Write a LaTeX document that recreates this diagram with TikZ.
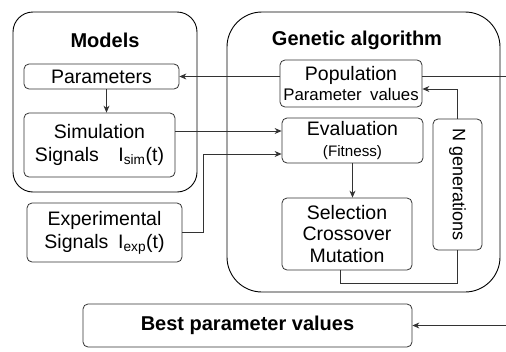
\documentclass[tikz,border=0pt]{standalone}
\usepackage{fontspec}
\setmainfont{Liberation Sans}
\usetikzlibrary{arrows.meta}
\begin{document}
\begin{tikzpicture}[x=1pt,y=-1pt,
  big/.style={draw=black, line width=0.9pt, rounded corners=#1, inner sep=0pt},
  box/.style={draw=black!80, line width=0.8pt, rounded corners=5pt, align=center, inner sep=0pt,
    font=\fontsize{19.5}{23}\selectfont},
  ttl/.style={font=\fontsize{20}{23}\selectfont\bfseries},
  conn/.style={draw=black!80, line width=0.8pt},
  arr/.style={conn, -{Stealth[length=7pt,width=6pt]}}]
\useasboundingbox (0,0) rectangle (506,351);
% big containers
\node[big=20pt, minimum width=184pt, minimum height=180pt] (Models) at (105,102) {};
\node[big=35pt, minimum width=273pt, minimum height=280pt] (GA) at (363.5,152) {};
\node[ttl] (tM) at (105,40) {Models};
\node[ttl] (tG) at (357,40) {Genetic algorithm};
% boxes
\node[box, minimum width=155pt, minimum height=25pt] (Par) at (101.5,76.5) {Parameters};
\node[box, minimum width=151pt, minimum height=64pt] (Sim) at (99.5,145)
  {Simulation\\Signals\quad I\textsubscript{sim}(t)};
\node[box, minimum width=155pt, minimum height=59pt] (Exp) at (104.5,232.5)
  {Experimental\\Signals\enspace I\textsubscript{exp}(t)};
\node[box, minimum width=142pt, minimum height=47pt] (Pop) at (351,83.5)
  {Population\\[-3pt]{\fontsize{16.8}{19}\selectfont Parameter\enspace values}};
\node[box, minimum width=141pt, minimum height=45pt] (Eva) at (352.5,140.5)
  {Evaluation\\[-2pt]{\fontsize{15.2}{17}\selectfont (Fitness)}};
\node[box, minimum width=130pt, minimum height=72pt, font=\fontsize{19.5}{21.5}\selectfont] (Sel) at (347,234)
  {Selection\\Crossover\\Mutation};
\node[box, minimum width=49pt, minimum height=131pt] (Ngen) at (457.5,184.5)
  {\rotatebox{-90}{\fontsize{18}{20}\selectfont N generations}};
\node[box, minimum width=329pt, minimum height=43pt, font=\fontsize{20}{23}\selectfont\bfseries] (Best) at (247.5,325.5)
  {Best parameter values};
% coordinates
\coordinate (inR) at (506,76.5);
\coordinate (inB) at (506,325.5);
\coordinate (e1) at ([yshift=9.5pt]Eva.west);
\coordinate (e2) at ([yshift=-13.5pt]Eva.west);
\coordinate (p2) at ([yshift=-5.5pt]Pop.east);
% connectors
\draw[arr] (Pop.west |- Par.east) -- (Par.east);
\draw[conn] (inR) -- (Pop.east |- inR);
\draw[arr] ([xshift=5pt]Par.south) -- ([xshift=5pt]Par.south |- Sim.north);
\draw[arr] (Sim.east |- e1) -- (e1);
\draw[arr] (Exp.east) -- ++(21,0) |- (e2);
\draw[arr] (Eva.south) -- (Eva.south |- Sel.north);
\draw[conn] ([xshift=-7pt]Sel.south) -- ++(0,13) -| (Ngen.south);
\draw[arr] (Ngen.north) |- (p2);
\draw[arr] (inB) -- (Best.east);
\end{tikzpicture}
\end{document}
